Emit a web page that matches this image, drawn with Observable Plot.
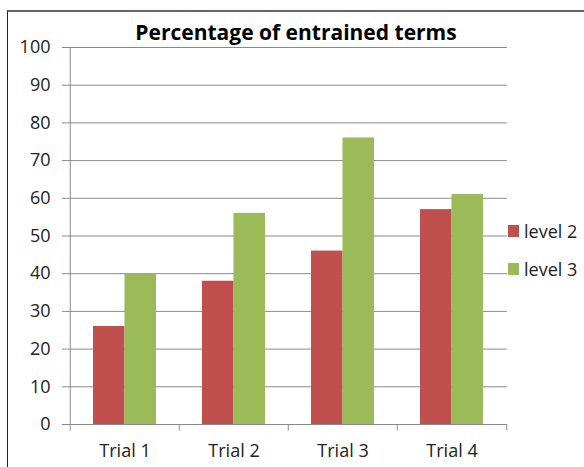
<!DOCTYPE html>
<html>
<head>
<meta charset="utf-8">
<script src="https://cdn.jsdelivr.net/npm/d3@7"></script>
<script src="https://cdn.jsdelivr.net/npm/@observablehq/plot@0.6"></script>
<style>
  html, body { margin: 0; padding: 0; background: #fff; }
  #wrap { position: relative; width: 584px; height: 467px; overflow: hidden; font-family: "Open Sans", sans-serif; }
  #border { position: absolute; left: 7px; top: 10px; width: 700px; height: 600px; border-left: 1px solid #222; border-top: 2px solid #666; box-sizing: border-box; }
  #title { position: absolute; left: 0; width: 584px; top: 18px; text-align: center; font-weight: bold; font-size: 21px; color: #000; padding-left: 8px; box-sizing: border-box; }
  #legend { position: absolute; left: 508px; top: 218px; font-size: 18px; color: #222; }
  .item { display: flex; align-items: center; height: 26px; margin-bottom: 12px; }
  .sw { width: 11px; height: 12px; margin-right: 5px; }
  svg { position: absolute; left: 0; top: 0; }
</style>
</head>
<body>
<div id="wrap">
  <div id="border"></div>
</div>
<script>
const trials = ["Trial 1", "Trial 2", "Trial 3", "Trial 4"];
const seriesNames = ["level 2", "level 3"];
const level2 = [26, 38, 46, 57];
const level3 = [40, 56, 76, 61];
const yTicks = [0, 10, 20, 30, 40, 50, 60, 70, 80, 90, 100];
const colors = ["#C0504D", "#9BBB59"];
const titleText = "Percentage of entrained terms";

const table = [];
trials.forEach((t, i) => {
  table.push({trial: t, series: seriesNames[0], value: level2[i]});
  table.push({trial: t, series: seriesNames[1], value: level3[i]});
});

const W = 584, H = 467, mL = 69, mR = 77, mT = 47, mB = 43;
const pIn = 0.425, pOut = 0.2125;
const step = (W - mL - mR) / (trials.length - pIn + 2 * pOut);
const bw = step * (1 - pIn);
const grey = "#8a8a8a";

const chart = Plot.plot({
  width: W, height: H,
  marginLeft: mL, marginRight: mR, marginTop: mT, marginBottom: mB,
  style: {fontFamily: "Open Sans, sans-serif", background: "transparent", overflow: "visible"},
  x: {domain: trials, paddingInner: pIn, paddingOuter: pOut, axis: null},
  y: {domain: [0, 100], axis: null},
  color: {domain: seriesNames, range: colors},
  marks: [
    Plot.gridY(yTicks.filter(d => d > 0), {stroke: grey, strokeOpacity: 1, strokeWidth: 1}),
    Plot.axisY(yTicks, {tickSize: 7, tickPadding: 12, fontSize: 18, stroke: grey, fill: "#222", label: null, tickFormat: d => String(d)}),
    Plot.barY(table.filter(d => d.series === seriesNames[0]), {x: "trial", y: "value", fill: "series", insetRight: bw / 2}),
    Plot.barY(table.filter(d => d.series === seriesNames[1]), {x: "trial", y: "value", fill: "series", insetLeft: bw / 2}),
    Plot.ruleY([0], {stroke: grey, strokeWidth: 1}),
    Plot.ruleX([trials[0]], {dx: -step / 2, y1: -1.7, y2: 100, stroke: grey}),
    Plot.ruleX(trials.slice(1), {dx: -step / 2, y1: -1.7, y2: 0, stroke: grey}),
    Plot.ruleX([trials[trials.length - 1]], {dx: step / 2, y1: -1.7, y2: 0, stroke: grey}),
    Plot.axisX(trials, {tickSize: 0, tickPadding: 20, fontSize: 18, fill: "#222", label: null})
  ]
});

const wrap = document.getElementById("wrap");
wrap.appendChild(chart);

const title = document.createElement("div");
title.id = "title";
title.textContent = titleText;
wrap.appendChild(title);

const legend = document.createElement("div");
legend.id = "legend";
seriesNames.forEach((s, i) => {
  const item = document.createElement("div");
  item.className = "item";
  const sw = document.createElement("div");
  sw.className = "sw";
  sw.style.background = colors[i];
  const lab = document.createElement("span");
  lab.textContent = s;
  item.appendChild(sw);
  item.appendChild(lab);
  legend.appendChild(item);
});
wrap.appendChild(legend);
</script>
</body>
</html>
